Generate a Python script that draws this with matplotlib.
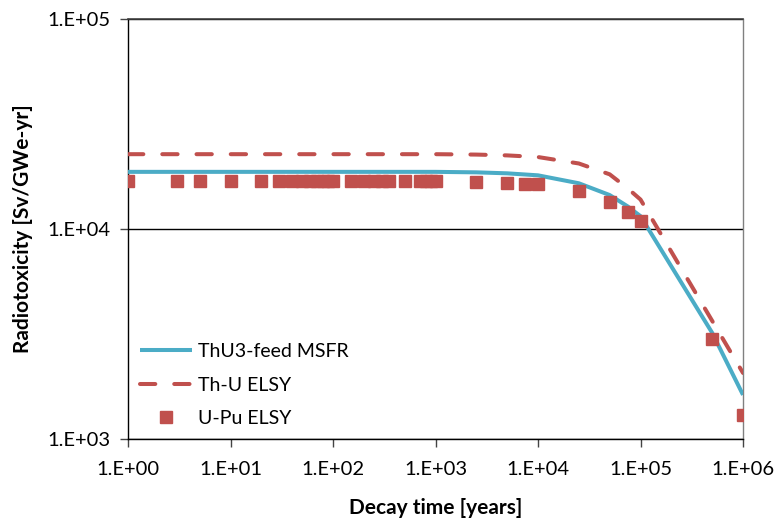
import matplotlib
matplotlib.use('Agg')
import matplotlib.pyplot as plt
from matplotlib.ticker import FixedLocator, FuncFormatter, NullLocator
import numpy as np

plt.rcParams['font.family'] = ['Lato', 'DejaVu Sans']

# decay time [years] and radiotoxicity [Sv/GWe-yr]
msfr_t = [1, 10, 100, 1000, 2500, 5000, 10000, 25000, 50000, 75000, 100000, 500000, 1000000]
msfr_v = [1.87e4, 1.87e4, 1.87e4, 1.87e4, 1.86e4, 1.84e4, 1.80e4, 1.65e4, 1.45e4, 1.28e4, 1.15e4, 3.2e3, 1.62e3]

thu_t = [1, 10, 100, 1000, 2500, 5000, 10000, 25000, 50000, 75000, 100000, 500000, 1000000]
thu_v = [2.27e4, 2.27e4, 2.27e4, 2.27e4, 2.26e4, 2.24e4, 2.20e4, 2.05e4, 1.82e4, 1.56e4, 1.38e4, 3.65e3, 2.06e3]

upu_t = [1, 3, 5, 10, 20, 30, 40, 50, 60, 70, 80, 90, 100, 150, 200, 250, 300, 350,
         500, 700, 800, 900, 1000, 2500, 5000, 7500, 10000, 25000, 50000, 75000,
         100000, 500000, 1000000]
upu_v = [1.70e4] * 23 + [1.68e4, 1.66e4, 1.64e4, 1.63e4, 1.51e4, 1.35e4, 1.21e4,
                         1.09e4, 3.0e3, 1.3e3]

x_ticks = [1, 10, 100, 1000, 1e4, 1e5, 1e6]
y_ticks = [1e3, 1e4, 1e5]

blue = '#4BACC6'
red = '#C0504D'

fig = plt.figure(figsize=(7.76, 5.2), dpi=100)
ax = fig.add_axes([0.165, 0.156, 0.7925, 0.8075])

ax.plot(msfr_t, msfr_v, color=blue, lw=2.9, solid_capstyle='butt', label='ThU3-feed MSFR', zorder=3)
ax.plot(thu_t, thu_v, color=red, lw=2.9, dashes=(3.8, 4.7), dash_capstyle='round',
        label='Th-U ELSY', zorder=3)
ax.plot(upu_t, upu_v, ls='none', marker='s', ms=8.6, color=red, mec=red,
        label='U-Pu ELSY', zorder=4)

ax.set_xscale('log')
ax.set_yscale('log')
ax.set_xlim(1, 1e6)
ax.set_ylim(1e3, 1e5)

ax.xaxis.set_major_locator(FixedLocator(x_ticks))
ax.yaxis.set_major_locator(FixedLocator(y_ticks))
ax.xaxis.set_minor_locator(NullLocator())
ax.yaxis.set_minor_locator(NullLocator())


def sci(v, pos):
    e = int(round(np.log10(v)))
    return '1.E%s%02d' % ('+' if e >= 0 else '-', abs(e))


ax.xaxis.set_major_formatter(FuncFormatter(sci))
ax.yaxis.set_major_formatter(FuncFormatter(sci))
ax.tick_params(axis='both', which='major', direction='out', length=6, width=1,
               labelsize=14.5, colors='#444444', pad=7)
ax.tick_params(axis='x', pad=10)
ax.tick_params(axis='both', labelcolor='black')

ax.grid(axis='y', which='major', color='black', lw=1)
ax.set_axisbelow(True)

for side in ['left', 'bottom']:
    ax.spines[side].set_color('black')
    ax.spines[side].set_linewidth(1)
ax.spines['top'].set_color('#404040')
ax.spines['top'].set_linewidth(1.2)
ax.spines['right'].set_color('#808080')
ax.spines['right'].set_linewidth(1)

ax.set_xlabel('Decay time [years]', fontsize=15, fontweight='bold', labelpad=14)
ax.set_ylabel('Radiotoxicity [Sv/GWe-yr]', fontsize=15, fontweight='bold', labelpad=10)

ax.legend(loc='lower left', frameon=False, fontsize=14, handlelength=2.7,
          handletextpad=0.3, labelspacing=0.85, borderaxespad=0.2,
          bbox_to_anchor=(0.0, 0.0))

fig.savefig('out.png', dpi=100)
